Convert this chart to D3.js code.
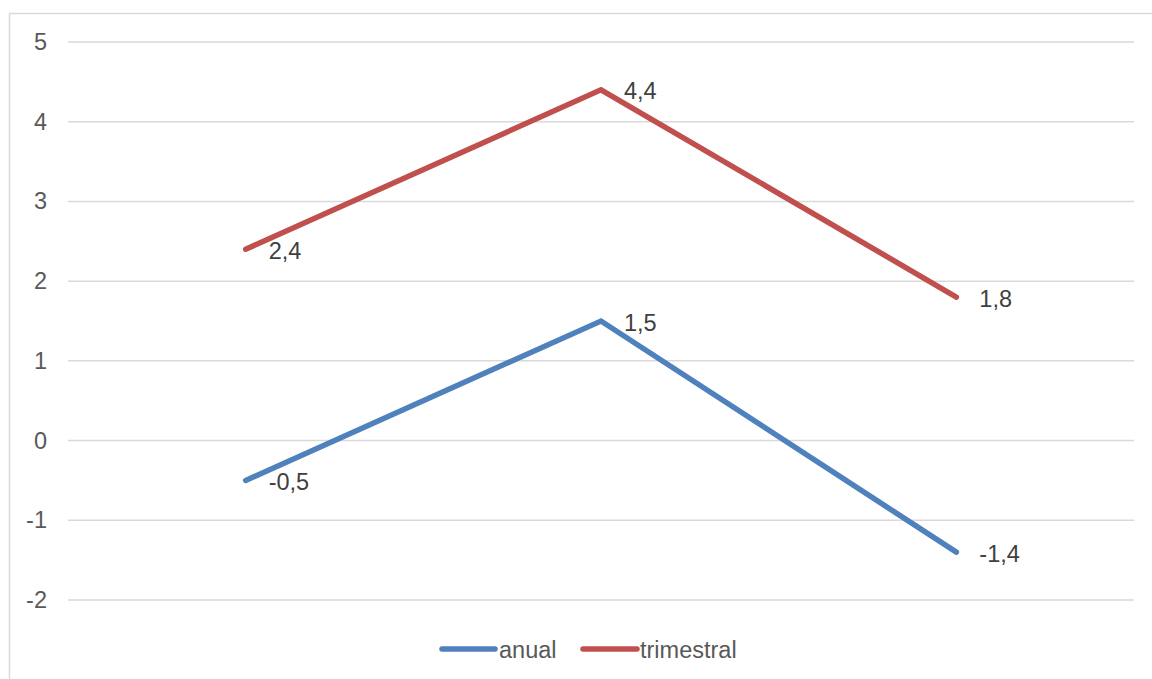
<!DOCTYPE html>
<html>
<head>
<meta charset="utf-8">
<script src="https://cdn.jsdelivr.net/npm/d3@7/dist/d3.min.js"></script>
<style>
  html, body { margin: 0; padding: 0; background: #fff; }
  svg { display: block; font-family: Arial, "Liberation Sans", sans-serif; }
</style>
</head>
<body>
<svg id="chart" width="1152" height="679"></svg>
<script>
// Categories (unlabelled periods) and series values
const categories = ["p1", "p2", "p3"];
const anual = [-0.5, 1.5, -1.4];
const trimestral = [2.4, 4.4, 1.8];
const yTicks = [-2, -1, 0, 1, 2, 3, 4, 5];

const series = [
  { name: "anual", values: anual, color: "#4F81BD" },
  { name: "trimestral", values: trimestral, color: "#C0504D" }
];

const svg = d3.select("#chart");
const W = 1152, H = 679;
const plot = { left: 68, right: 1134, top: 42, bottom: 600 };
const FS = 23.5;

// Outer chart frame
svg.append("rect")
  .attr("x", 9.5).attr("y", 13.5)
  .attr("width", W + 20).attr("height", H + 20)
  .attr("fill", "#fff").attr("stroke", "#D9D9D9").attr("stroke-width", 1.5);

const x = d3.scalePoint().domain(categories).range([plot.left, plot.right]).padding(0.5);
const y = d3.scaleLinear().domain([-2, 5]).range([plot.bottom, plot.top]);

// Horizontal gridlines
svg.append("g").selectAll("line").data(yTicks).join("line")
  .attr("x1", plot.left).attr("x2", plot.right)
  .attr("y1", d => y(d)).attr("y2", d => y(d))
  .attr("stroke", "#D9D9D9").attr("stroke-width", 1.5);

// Y axis tick labels
svg.append("g").selectAll("text").data(yTicks).join("text")
  .attr("x", 47).attr("y", d => y(d))
  .attr("text-anchor", "end").attr("dominant-baseline", "central")
  .attr("fill", "#595959").attr("font-size", FS)
  .text(d => d);

// Lines
const line = d3.line().x((d, i) => x(categories[i])).y(d => y(d));
series.forEach(s => {
  svg.append("path").datum(s.values)
    .attr("d", line)
    .attr("fill", "none").attr("stroke", s.color)
    .attr("stroke-width", 5.5).attr("stroke-linecap", "round").attr("stroke-linejoin", "miter");

  // Data labels, to the right of each point
  svg.append("g").selectAll("text").data(s.values).join("text")
    .attr("x", (d, i) => x(categories[i]) + 23)
    .attr("y", (d, i) => y(d) + 1.5)
    .attr("dominant-baseline", "central")
    .attr("fill", "#404040").attr("font-size", FS)
    .text(d => d.toFixed(1).replace(".", ","));
});

// Legend
const legend = svg.append("g");
const legendItems = [
  { s: series[0], x1: 442, x2: 495, tx: 499 },
  { s: series[1], x1: 583, x2: 637, tx: 640 }
];
legendItems.forEach(it => {
  legend.append("line")
    .attr("x1", it.x1).attr("x2", it.x2).attr("y1", 649).attr("y2", 649)
    .attr("stroke", it.s.color).attr("stroke-width", 5.5).attr("stroke-linecap", "round");
  legend.append("text")
    .attr("x", it.tx).attr("y", 650)
    .attr("dominant-baseline", "central")
    .attr("fill", "#595959").attr("font-size", FS)
    .text(it.s.name);
});
</script>
</body>
</html>
